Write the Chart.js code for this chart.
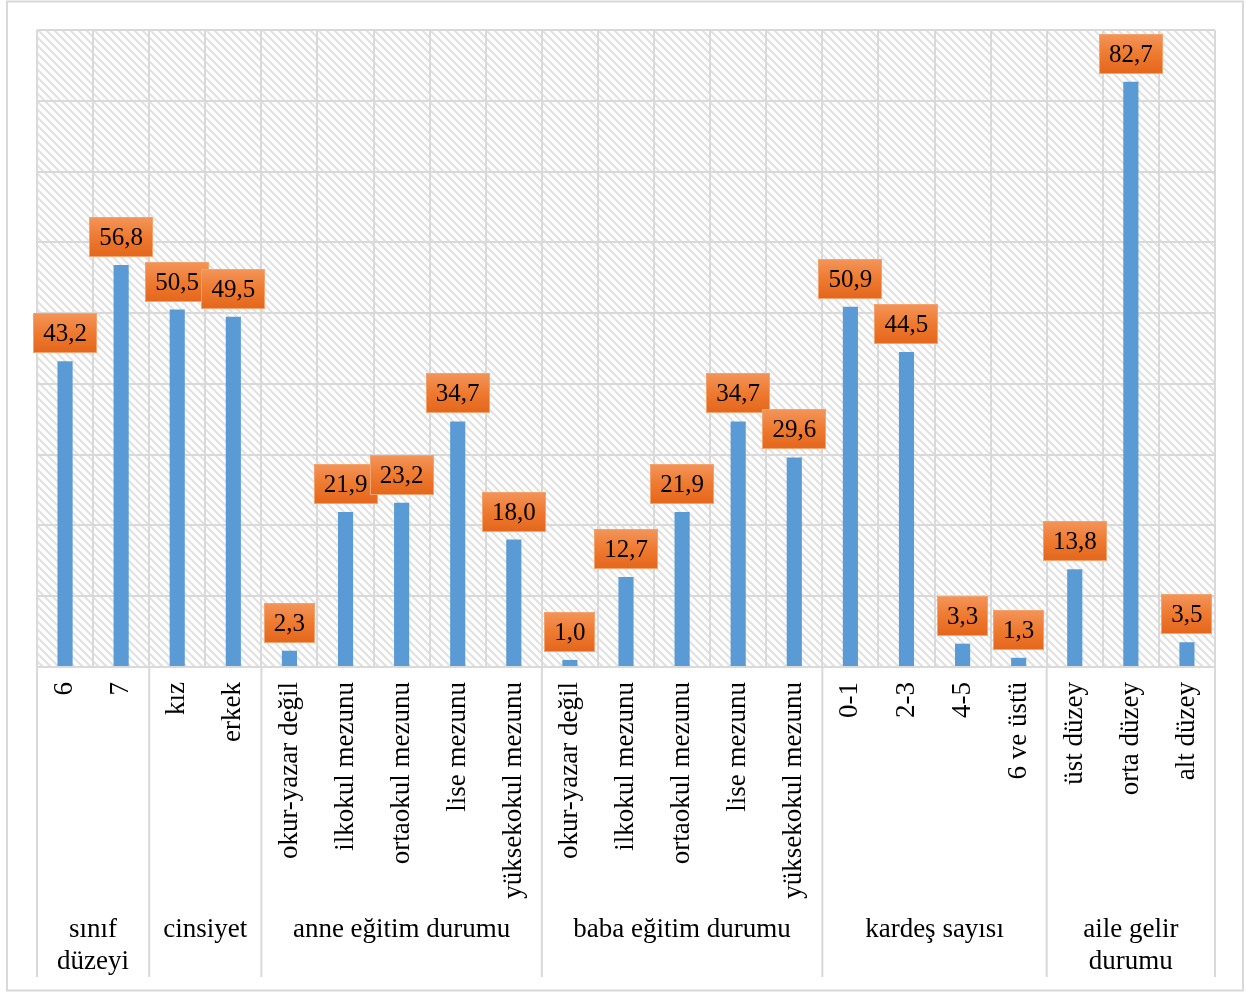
<!DOCTYPE html>
<html>
<head>
<meta charset="utf-8">
<script src="https://cdn.jsdelivr.net/npm/chart.js@4.4.1/dist/chart.umd.min.js"></script>
<style>
html,body{margin:0;padding:0;background:#fff;}
#wrap{width:1246px;height:992px;position:relative;}
</style>
</head>
<body>
<div id="wrap"><canvas id="c" width="1246" height="992"></canvas></div>
<script>
// ---- data ----
const categories = [
  '6','7',
  'kız','erkek',
  'okur-yazar değil','ilkokul mezunu','ortaokul mezunu','lise mezunu','yüksekokul mezunu',
  'okur-yazar değil','ilkokul mezunu','ortaokul mezunu','lise mezunu','yüksekokul mezunu',
  '0-1','2-3','4-5','6 ve üstü',
  'üst düzey','orta düzey','alt düzey'
];
const values = [
  43.2, 56.8,
  50.5, 49.5,
  2.3, 21.9, 23.2, 34.7, 18.0,
  1.0, 12.7, 21.9, 34.7, 29.6,
  50.9, 44.5, 3.3, 1.3,
  13.8, 82.7, 3.5
];
const groupNames = ['sınıf düzeyi','cinsiyet','anne eğitim durumu','baba eğitim durumu','kardeş sayısı','aile gelir durumu'];
const groupSizes = [2, 2, 5, 5, 4, 3];
const yTicks = { min: 0, max: 90, step: 10 };

const FONT = '"Liberation Serif", "Times New Roman", serif';
const GRID = '#d9d9d9';

function fmt(v){ return v.toFixed(1).replace('.', ','); }

function makePattern(ctx){
  const p = document.createElement('canvas');
  p.width = 8; p.height = 8;
  const g = p.getContext('2d');
  g.fillStyle = '#ffffff';
  g.fillRect(0,0,8,8);
  g.strokeStyle = '#e2e2e2';
  g.lineWidth = 2.2;
  g.beginPath();
  g.moveTo(-2,-2); g.lineTo(10,10);
  g.moveTo(-2,6); g.lineTo(2,10);
  g.moveTo(6,-2); g.lineTo(10,2);
  g.stroke();
  return ctx.createPattern(p, 'repeat');
}

const bgPlugin = {
  id: 'bg',
  beforeDraw(chart){
    const {ctx, chartArea:a, width, height} = chart;
    ctx.save();
    ctx.fillStyle = '#fff';
    ctx.fillRect(0,0,width,height);
    ctx.strokeStyle = GRID;
    ctx.lineWidth = 2;
    ctx.strokeRect(7, 1.5, width - 10, height - 3);
    ctx.fillStyle = makePattern(ctx);
    ctx.fillRect(a.left, a.top, a.right - a.left, a.bottom - a.top);
    ctx.restore();
  }
};

const groupPlugin = {
  id: 'groups',
  afterDraw(chart){
    const {ctx, chartArea:a} = chart;
    const xs = chart.scales.x;
    const half = (xs.getPixelForValue(1) - xs.getPixelForValue(0)) / 2;
    const yEnd = a.bottom + 310;
    ctx.save();
    ctx.strokeStyle = GRID;
    ctx.lineWidth = 2;
    let idx = 0;
    const bounds = [xs.getPixelForValue(0) - half];
    groupSizes.forEach(n => { idx += n; bounds.push(xs.getPixelForValue(idx - 1) + half); });
    ctx.beginPath();
    bounds.forEach(b => { ctx.moveTo(b, a.bottom); ctx.lineTo(b, yEnd); });
    ctx.stroke();
    ctx.fillStyle = '#000';
    ctx.font = '27px ' + FONT;
    ctx.textAlign = 'center';
    ctx.textBaseline = 'middle';
    groupNames.forEach((name, gi) => {
      const l = bounds[gi], r = bounds[gi+1];
      const maxW = r - l - 8;
      const words = name.split(' ');
      const lines = [];
      let cur = '';
      words.forEach(w => {
        const t = cur ? cur + ' ' + w : w;
        if (ctx.measureText(t).width > maxW && cur) { lines.push(cur); cur = w; }
        else cur = t;
      });
      if (cur) lines.push(cur);
      lines.forEach((ln, li) => ctx.fillText(ln, (l + r) / 2, a.bottom + 263 + li * 32));
    });
    ctx.restore();
  }
};

const labelPlugin = {
  id: 'dlabels',
  afterDatasetsDraw(chart){
    const {ctx} = chart;
    const meta = chart.getDatasetMeta(0);
    ctx.save();
    ctx.font = '25px ' + FONT;
    ctx.textAlign = 'center';
    ctx.textBaseline = 'middle';
    meta.data.forEach((bar, i) => {
      const txt = fmt(values[i]);
      const tw = ctx.measureText(txt).width;
      const w = Math.round(tw + 20), h = 40;
      const x = Math.round(bar.x - w / 2), y = Math.round(bar.y - 8 - h);
      const grd = ctx.createLinearGradient(0, y, 0, y + h);
      grd.addColorStop(0, '#f3955a');
      grd.addColorStop(0.5, '#ee7a30');
      grd.addColorStop(1, '#e3661b');
      ctx.fillStyle = grd;
      ctx.fillRect(x, y, w, h);
      ctx.strokeStyle = '#f4a36e';
      ctx.lineWidth = 1;
      ctx.strokeRect(x + 0.5, y + 0.5, w - 1, h - 1);
      ctx.fillStyle = '#000';
      ctx.fillText(txt, bar.x, y + h / 2 + 1);
    });
    ctx.restore();
  }
};

new Chart(document.getElementById('c'), {
  type: 'bar',
  data: {
    labels: categories,
    datasets: [{
      data: values,
      backgroundColor: '#5b9bd5',
      borderWidth: 0,
      barPercentage: 0.27,
      categoryPercentage: 1.0
    }]
  },
  options: {
    responsive: false,
    animation: false,
    devicePixelRatio: 1,
    layout: { padding: { top: 30, left: 37, right: 31, bottom: 0 } },
    plugins: { legend: { display: false }, tooltip: { enabled: false } },
    scales: {
      x: {
        grid: { color: GRID, lineWidth: 2, drawTicks: false, offset: true },
        border: { color: GRID, width: 2 },
        ticks: {
          color: '#000',
          font: { family: FONT, size: 27 },
          maxRotation: 90, minRotation: 90,
          padding: 15,
          autoSkip: false
        },
        afterFit(s){ s.height = 325; }
      },
      y: {
        min: yTicks.min, max: yTicks.max,
        ticks: { display: false, stepSize: yTicks.step },
        grid: { color: GRID, lineWidth: 2, drawTicks: false },
        border: { display: false },
        afterFit(s){ s.width = 0; }
      }
    }
  },
  plugins: [bgPlugin, labelPlugin, groupPlugin]
});
</script>
</body>
</html>
